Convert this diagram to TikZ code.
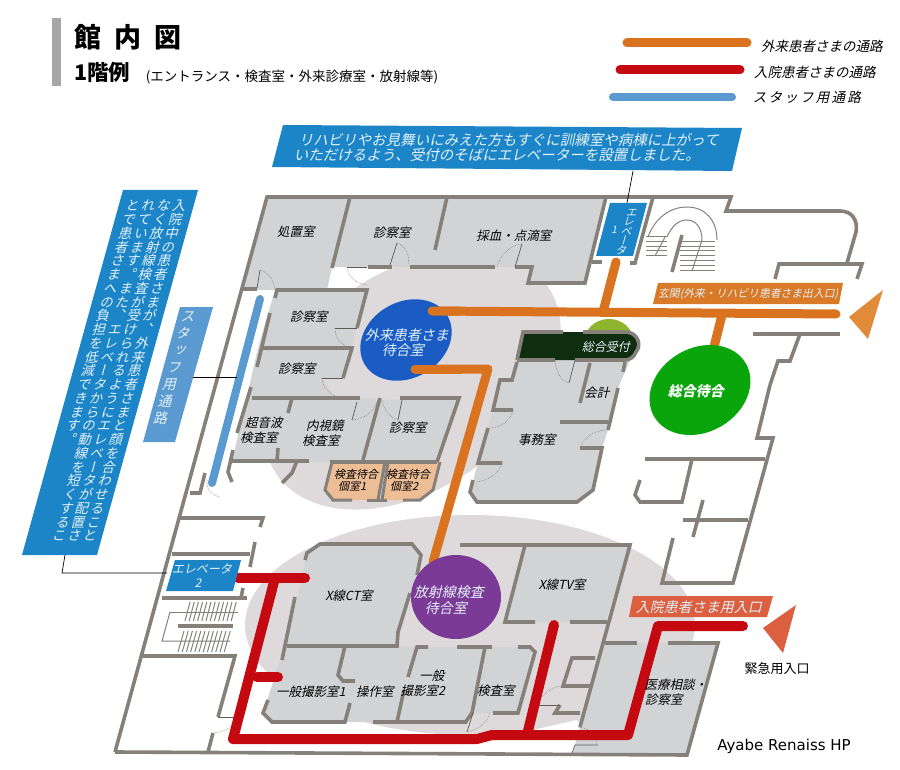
\documentclass[tikz,border=0pt]{standalone}
\usepackage{fontspec}
\setmainfont{DejaVu Sans}
\newfontfamily\jp{Noto Sans CJK JP}
\newfontfamily\jpv[RawFeature=+vert]{Noto Sans CJK JP}
\usepackage{tikz}
\definecolor{wallgray}{HTML}{86807B}
\definecolor{roomgray}{HTML}{D2D3D5}
\definecolor{halogray}{HTML}{DED9DB}
\definecolor{routeorange}{HTML}{D9731F}
\definecolor{routered}{HTML}{C40A10}
\definecolor{routeblue}{HTML}{5B9AD0}
\definecolor{boxblue}{HTML}{1C85C8}
\definecolor{paletext}{HTML}{E4F2FA}
\definecolor{waitblue}{HTML}{1A5CC4}
\definecolor{waitgreen}{HTML}{0AA50A}
\definecolor{waitpurple}{HTML}{7B3A96}
\definecolor{privateroom}{HTML}{EDBD96}
\definecolor{desk}{HTML}{0F2E10}
\definecolor{deskback}{HTML}{8FB52E}
\definecolor{signred}{HTML}{DC6040}
\definecolor{arroworange}{HTML}{E08A3A}
\definecolor{signorange}{HTML}{D97A28}
\makeatletter
\newcommand{\tatecol}[2]{\vtop{\baselineskip=#1\lineskip=0pt\lineskiplimit=-100pt\@tfor\tatech:=#2\do{\hbox to 1em{\hss\tatech\hss}}}}
\makeatother
\newcommand{\jpsize}[1]{\jp\fontsize{#1}{#1}\selectfont}
\tikzset{
  wall/.style={draw=wallgray, line width=3.6pt, line cap=butt, line join=miter},
  thinwall/.style={draw=wallgray!70!black, line width=0.7pt},
  doorarc/.style={draw=wallgray, line width=0.6pt, densely dotted},
  stairline/.style={draw=wallgray, line width=1pt},
  route/.style={line width=9pt, line cap=round, line join=round},
  lbl/.style={inner sep=0pt, font=\jpsize{12.5}, xslant=0.22, transform shape},
  lblwhite/.style={lbl, text=paletext},
  tatebox/.style={inner sep=0pt, anchor=north, text=paletext, xslant=0.27, transform shape}
}
\begin{document}
\begin{tikzpicture}[x=1pt, y=-1pt]
\useasboundingbox (0,0) rectangle (900,770);

% title
\fill[gray!70] (52,18) rectangle (61,86);
\node (title) at (74,37) [anchor=west, inner sep=0pt, font=\jpsize{27}\bfseries] {館\hskip13pt 内\hskip13pt 図};
\node (floor) at (74,72) [anchor=west, inner sep=0pt, font=\jpsize{21.5}\bfseries] {1階例};
\node (floornote) at (292,77) [inner sep=0pt, font=\jpsize{13.5}] {(エントランス・検査室・外来診療室・放射線等)};

% legend
\draw[route, routeorange] (627,43) -- (747,43);
\draw[route, routered] (620,70) -- (740,70);
\draw[route, routeblue, line width=8pt] (613,97) -- (732,97);
\node (legendout) at (823,46) [lbl, font=\jpsize{13.5}] {外来患者さまの通路};
\node (legendin) at (816,72) [lbl, font=\jpsize{13.5}] {入院患者さまの通路};
\node (legendstaff) at (808,97) [lbl, font=\jpsize{13.5}] {ス\,タ\,ッ\,フ\,用\,通\,路};

% halos behind the corridors
\fill[halogray, rotate around={35:(412,380)}] (412,380) ellipse [x radius=165, y radius=108];
\fill[halogray] (470,625) ellipse [x radius=225, y radius=110];
\fill[white] (533,730) -- (577,720) -- (575,732) -- cycle;

% room floors
\fill[roomgray] (267,197) -- (606,197) -- (585,283) -- (528,283) -- (532,267) -- (332,267) -- (327,290) -- (242,290) -- cycle;
\fill[roomgray] (275,290) -- (367,290) -- (343,378) -- (322,378) -- (335,398) -- (380,398) -- (363,462) -- (232,462) -- (258,348) -- cycle;
\fill[roomgray] (382,400) -- (459,398) -- (438,462) -- (365,462) -- cycle;
\fill[roomgray] (517,360) -- (630,360) -- (618,388) -- (608,430) -- (602,448) -- (593,490) -- (577,502) -- (477,502) -- (470,492) -- (478,463) -- (488,428) -- (493,410) -- (500,380) -- (512,380) -- cycle;
\fill[roomgray] (320,544) -- (412,544) -- (421,555) -- (397,646) -- (287,646) -- (307,553) -- cycle;
\fill[roomgray] (287,646) -- (415,647) -- (397,722) -- (272,722) -- (263,713) -- (280,660) -- cycle;
\fill[roomgray] (417,647) -- (532,647) -- (518,713) -- (473,713) -- (465,723) -- (397,723) -- cycle;
\fill[roomgray] (525,545) -- (630,545) -- (605,622) -- (505,622) -- cycle;
\fill[roomgray] (605,643) -- (718,643) -- (687,755) -- (572,755) -- (580,727) -- cycle;
\fill[privateroom] (332,462) -- (385,462) -- (378,500) -- (333,500) -- (325,490) -- cycle;
\fill[privateroom] (388,462) -- (440,462) -- (433,490) -- (420,500) -- (382,500) -- cycle;

% outer walls
\draw[wall] (115,752) -- (267,197) -- (731,197) -- (726,211) -- (840,211) .. controls (852,211) and (858,220) .. (856,232) -- (847,263);
\draw[wall] (115,752) -- (687,755) -- (718,643) -- (668,643);
\draw[wall] (775,279) -- (779,264) -- (862,264) -- (857,279);
\draw[wall] (753,334) -- (840,334);
\draw[wall] (800,334) -- (790,361) -- (778,361) -- (770,385);
\draw[wall] (770,385) -- (757,438) -- (773,438) -- (733,583) -- (662,583) -- (673,538);
\draw[wall] (645,459) -- (765,459);
\draw[wall] (692,459) -- (682,502) -- (640,502) -- (635,495) -- (640,480);
\draw[wall] (683,520) -- (748,520);
\draw[wall] (703,500) -- (693,537);

% upper rooms
\draw[wall] (350,197) -- (332,268);
\draw[wall] (447,197) -- (435,250);
\draw[wall] (606,197) -- (585,283) -- (528,283) -- (532,267) -- (515,267);
\draw[wall] (368,267) -- (392,267);
\draw[wall] (410,267) -- (495,267);
\draw[wall] (653,197) -- (635,263) -- (630,263);
\draw[wall] (592,262) -- (602,262);
\draw[wall] (242,289) -- (257,289);
\draw[wall] (275,298) -- (277,290) -- (367,290) -- (357,328);
\draw[wall] (270,313) -- (257,367);
\draw[wall] (263,348) -- (352,348) -- (343,378);
\draw[wall] (251,387) -- (237,433);
\draw[wall] (252,398) -- (360,398);
\draw[wall] (400,398) -- (459,398) -- (437,462);
\draw[wall] (292,398) -- (288,413);
\draw[wall] (380,398) -- (363,460);
\draw[wall] (230,461) -- (309,461);
\draw[wall] (297,461) -- (292,473) -- (282,483);
\draw[wall] (330,462) -- (437,462);
\draw[wall] (278,448) -- (277,461);
\draw[wall] (233,450) -- (228,472) -- (232,482);
\draw[wall, line width=3pt] (332,462) -- (325,490) -- (333,500) -- (352,500);
\draw[wall, line width=3pt] (367,500) -- (387,500);
\draw[wall, line width=3pt] (385,462) -- (378,500);
\draw[wall, line width=3pt] (388,462) -- (382,500);
\draw[wall, line width=3pt] (403,500) -- (420,500) -- (433,490) -- (440,462);

% office block
\draw[wall] (517,362) -- (512,380) -- (500,380) -- (493,410) -- (513,410);
\draw[wall] (488,428) -- (478,463) -- (502,463);
\draw[wall] (473,480) -- (470,492) -- (477,502) -- (577,502) -- (593,490) -- (602,448) -- (580,448);
\draw[wall] (590,363) -- (580,403);
\draw[wall] (560,422) -- (608,422);
\draw[wall] (618,388) -- (608,430);
\draw[wall] (625,362) -- (623,372);

% reception
\fill[deskback] (609,340) ellipse [x radius=24, y radius=21];
\fill[desk] (523,332) -- (625,332) .. controls (638,332) and (642,345) .. (636,352) .. controls (634,357) and (630,360) .. (625,360) -- (517,360) -- cycle;
\draw[wall] (517,360) -- (523,332) -- (563,332);
\draw[wall] (583,332) -- (625,332) .. controls (638,332) and (642,345) .. (636,352) .. controls (634,357) and (630,360) .. (625,360) -- (575,360);
\draw[wall] (555,360) -- (517,360);

% left block and stairs
\draw[wall] (205,473) -- (200,493) -- (190,493);
\draw[wall] (180,518) -- (263,518) -- (260,527);
\draw[wall] (172,554) -- (250,554);
\draw[wall] (255,542) -- (250,567);
\draw[wall] (162,598) -- (247,598);
\draw[wall] (243,588) -- (241,598);
\draw[wall] (143,656) -- (235,656) -- (218,717);
\draw[wall] (213,733) -- (208,752);
\draw[wall] (178,626) -- (233,626);
\draw[stairline] (170,612) -- (238,612);
\draw[stairline] (170,612) -- (162,641) -- (230,641);
\foreach \k in {0,...,11} {
  \draw[stairline] (190+4.2*\k,602) -- (185+4.2*\k,621);
  \draw[stairline] (184+4.2*\k,631) -- (178+4.2*\k,652);
}

% lower rooms
\draw[wall] (305,560) -- (307,553) -- (320,544) -- (412,544) -- (421,555) -- (417,575);
\draw[wall] (410,593) -- (398,632) -- (397,646) -- (287,646);
\draw[wall] (295,597) -- (282,660);
\draw[wall] (345,646) -- (338,675) -- (343,681) -- (355,681);
\draw[wall] (428,647) -- (417,647) -- (408,677);
\draw[wall] (404,690) -- (397,722);
\draw[wall] (350,703) -- (345,722) -- (272,722) -- (263,713) -- (268,700);
\draw[wall] (373,722) -- (467,722);
\draw[wall] (457,647) -- (492,647);
\draw[wall] (485,647) -- (472,713) -- (465,723);
\draw[wall] (518,647) -- (530,647) -- (535,652) -- (518,713) -- (493,713);
\draw[wall] (460,545) -- (630,545) -- (580,727);
\draw[wall] (525,545) -- (505,622) -- (535,622);
\draw[wall] (570,622) -- (607,622);
\draw[wall] (605,643) -- (637,643);
\draw[wall] (595,658) -- (572,658) -- (563,686) -- (590,686);
\draw[wall] (580,713) -- (555,713) -- (560,705);

% doors
\draw[thinwall] (390,265) -- (397,243);
\draw[doorarc] (397,243) .. controls (406,246) and (410,255) .. (408,265);
\draw[thinwall] (347,267) -- (367,267);
\draw[doorarc] (347,267) .. controls (348,276) and (356,284) .. (367,285);
\draw[thinwall] (515,267) -- (522,244);
\draw[doorarc] (522,244) .. controls (510,245) and (500,255) .. (497,267);
\draw[thinwall] (257,288) -- (260,270);
\draw[doorarc] (260,270) .. controls (268,272) and (274,280) .. (275,290);
\draw[thinwall] (335,328) -- (357,328);
\draw[doorarc] (335,328) .. controls (335,336) and (338,342) .. (346,346);
\draw[thinwall] (322,378) -- (343,378);
\draw[doorarc] (322,378) .. controls (322,386) and (328,392) .. (335,396);
\draw[thinwall] (357,402) -- (352,420);
\draw[doorarc] (352,420) .. controls (364,419) and (374,412) .. (377,402);
\draw[thinwall] (402,400) -- (398,420);
\draw[doorarc] (382,400) .. controls (384,410) and (390,418) .. (398,420);
\draw[thinwall] (575,360) -- (569,383);
\draw[doorarc] (555,360) .. controls (556,372) and (560,380) .. (569,383);
\draw[doorarc] (513,410) .. controls (511,420) and (502,427) .. (490,428);
\draw[doorarc] (502,463) .. controls (500,472) and (490,480) .. (477,482);
\draw[doorarc] (605,430) .. controls (592,431) and (582,440) .. (580,448);
\draw[doorarc] (207,480) .. controls (206,490) and (212,495) .. (220,497);
\draw[thinwall] (218,717) -- (238,717);
\draw[doorarc] (238,717) .. controls (236,726) and (225,732) .. (213,733);
\draw[thinwall] (473,713) -- (467,732);
\draw[doorarc] (467,732) .. controls (478,730) and (488,722) .. (490,713);
\draw[thinwall] (537,705) -- (560,705);
\draw[doorarc] (537,705) .. controls (541,695) and (550,688) .. (560,686);
\draw[thinwall] (572,753) -- (575,745) -- (598,745);
\draw[doorarc] (578,727) .. controls (590,728) and (597,735) .. (597,745);

% big stairs
\draw[stairline] (648,237) .. controls (655,218) and (670,207) .. (687,207) .. controls (705,207) and (717,220) .. (717,240);
\draw[stairline] (667,237) .. controls (672,226) and (678,220) .. (687,220) .. controls (696,220) and (702,228) .. (702,240);
\draw[wall] (682,235) -- (672,272);
\foreach \yy in {237,242,247,251,256} { \draw[stairline] (646,\yy) -- (667,\yy); }
\foreach \yy in {242,247,251,256,261,266,271} { \draw[stairline] (680,\yy) -- (715,\yy); }
\draw[stairline] (665,237) -- (655,256);
\draw[stairline] (702,240) -- (692,271);

% patient and staff routes
\draw[route, routeorange] (432,311) -- (836,314);
\draw[route, routeorange] (616,262) -- (603,312);
\draw[route, routeorange] (722,315) -- (714,347);
\draw[route, routeorange] (415,369) -- (488,369) -- (433,562);
\draw[route, routered, line width=10pt] (238,578) -- (305,578);
\draw[route, routered, line width=10pt] (275,578) -- (233,739) -- (477,739) -- (492,735) -- (628,735) -- (658,626) -- (743,626);
\draw[route, routered, line width=10pt] (257,677) -- (278,677);
\draw[route, routered, line width=10pt] (554,625) -- (527,735);
\draw[route, routeblue, line width=8pt] (260,299) -- (212,483);

% waiting rooms
\fill[waitblue, rotate around={30:(406,340)}] (406,340) ellipse [x radius=48, y radius=38];
\fill[waitgreen, rotate around={30:(700,390)}] (700,390) ellipse [x radius=53, y radius=42];
\fill[waitpurple] (456,597) ellipse [x radius=45, y radius=42];
\draw[route, routeorange] (432,311) -- (460,311.2);
\draw[route, routeorange] (415,369) -- (460,369);
\node (waitout) at (408,335) [lblwhite, font=\jpsize{14}] {外来患者さま};
\node (waitoutb) at (404,350) [lblwhite, font=\jpsize{14}] {待合室};
\node (waitmain) at (697,391) [lblwhite, text=white, font=\jpsize{14}\bfseries] {総合待合};
\node (waitxray) at (450,592) [lblwhite, font=\jpsize{14}] {放射線検査};
\node (waitxrayb) at (447,608) [lblwhite, font=\jpsize{14}] {待合室};

% blue boxes
\fill[boxblue] (283,125) -- (742,128) -- (732,171) -- (272,167) -- cycle;
\node (noteelev) at (300,140) [lblwhite, anchor=west, font=\jpsize{14.5}] {リハビリやお見舞いにみえた方もすぐに訓練室や病棟に上がって};
\node (noteelevb) at (295,155) [lblwhite, anchor=west, font=\jpsize{14.5}] {いただけるよう、受付のそばにエレベーターを設置しました。};
\draw[thinwall, black] (633,171) -- (627,203);
\fill[boxblue] (123,190) -- (198,190) -- (97,555) -- (22,555) -- cycle;
\node (notein) at (158,200) [tatebox, font=\jpv\fontsize{13.5}{14}\selectfont] {\tatecol{13.75pt}{とで患者さまへの負担を低減できます。}\hskip2pt\tatecol{13.75pt}{れています。また、エレベータからの動線を短くするこ}\hskip2pt\tatecol{13.75pt}{なく放射線検査が受けられるようにエレベータが配置さ}\hskip2pt\tatecol{13.75pt}{入院中の患者さまが、外来患者さまと顔を合わせること}};
\draw[thinwall, black] (65,555) -- (62,573) -- (167,573);
\fill[routeblue] (180,307) -- (213,307) -- (175,442) -- (143,442) -- cycle;
\node (notestaff) at (190,312) [tatebox, font=\jpv\fontsize{14}{16}\selectfont, xslant=0] {\tatecol{17pt}{スタッフ用通路}};
\draw[thinwall, black] (193,377) -- (237,377);
\fill[boxblue] (610,203) -- (647,203) -- (633,256) -- (596,256) -- cycle;
\node (elevone) at (633,209) [tatebox, font=\jpv\fontsize{11}{12}\selectfont] {\tatecol{9.5pt}{エレベータ}};
\node (elevonenum) at (615,230) [lblwhite, font=\jpsize{10}] {1};
\fill[boxblue] (175,560) -- (241,560) -- (233,591) -- (166,591) -- cycle;
\node (elevtwo) at (203,569) [lblwhite, font=\jpsize{12}] {エレベータ};
\node (elevtwonum) at (199,583) [lblwhite, font=\jpsize{12}] {2};

% entrance signs
\fill[signorange] (658,283) -- (843,283) -- (839,304) -- (653,304) -- cycle;
\node (entrance) at (749,294) [lblwhite, font=\jpsize{10.8}] {玄関(外来・リハビリ患者さま出入口)};
\fill[signred] (633,596) -- (773,596) -- (767,617) -- (629,617) -- cycle;
\node (entrancein) at (700,607) [lblwhite, font=\jpsize{14}] {入院患者さま用入口};
\fill[arroworange] (849,317) -- (883,290) -- (868,339) -- cycle;
\fill[signred] (763,628) -- (796,605) -- (783,653) -- cycle;
\node (emergency) at (777,669) [inner sep=0pt, font=\jpsize{13}] {緊急用入口};

% room names
\node (shochi) at (297,232) [lbl] {処置室};
\node (shin1) at (393,233) [lbl] {診察室};
\node (saiketsu) at (515,236) [lbl] {採血・点滴室};
\node (shin2) at (310,317) [lbl] {診察室};
\node (shin3) at (298,369) [lbl] {診察室};
\node (echo) at (265,423) [lbl] {超音波};
\node (echob) at (260,438) [lbl] {検査室};
\node (scope) at (326,426) [lbl] {内視鏡};
\node (scopeb) at (322,441) [lbl] {検査室};
\node (shin4) at (409,428) [lbl] {診察室};
\node (machi1) at (357,474) [lbl, font=\jpsize{11}] {検査待合};
\node (machi1b) at (353,486) [lbl, font=\jpsize{11}] {個室1};
\node (machi2) at (409,474) [lbl, font=\jpsize{11}] {検査待合};
\node (machi2b) at (405,486) [lbl, font=\jpsize{11}] {個室2};
\node (xct) at (350,596) [lbl] {X線CT室};
\node (ippan1) at (312,692) [lbl] {一般撮影室1};
\node (sosa) at (376,692) [lbl] {操作室};
\node (ippan2) at (433,676) [lbl] {一般};
\node (ippan2b) at (424,691) [lbl] {撮影室2};
\node (kensa) at (497,691) [lbl] {検査室};
\node (xtv) at (563,585) [lbl] {X線TV室};
\node (iryo) at (677,685) [lbl] {医療相談・};
\node (iryob) at (665,700) [lbl] {診察室};
\node (jimu) at (538,440) [lbl] {事務室};
\node (kaikei) at (598,393) [lbl] {会計};
\node (uketsuke) at (607,347) [lblwhite, font=\jpsize{12}] {総合受付};
\node (credit) at (784,746) [inner sep=0pt, font=\fontsize{15}{17}\selectfont] {Ayabe Renaiss HP};
\end{tikzpicture}
\end{document}
